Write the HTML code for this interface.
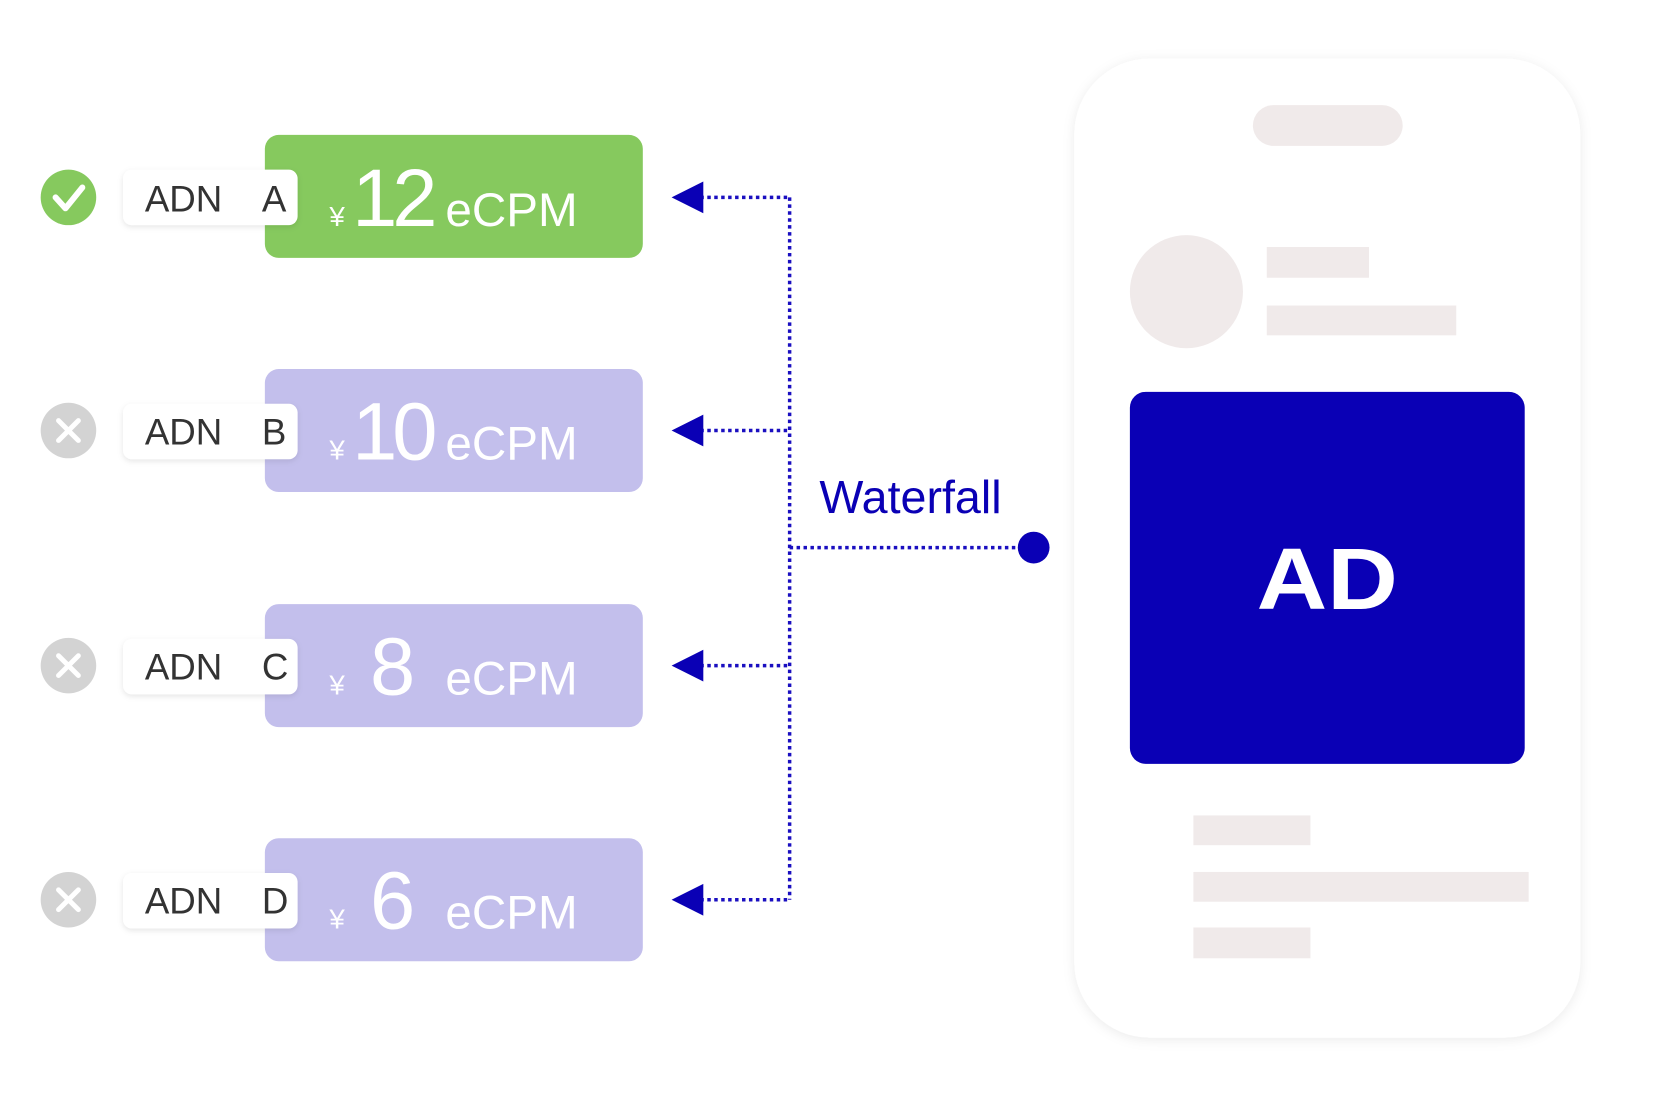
<!DOCTYPE html>
<html><head><meta charset="utf-8"><style>
html,body{margin:0;padding:0;background:#fff}
body{width:1680px;height:1096px;position:relative;overflow:hidden;font-family:"Liberation Sans",sans-serif}
</style></head><body>
<svg width="1680" height="1096" viewBox="0 0 1680 1096" xmlns="http://www.w3.org/2000/svg" style="position:absolute;left:0;top:0">
<defs>
<filter id="sh" x="-20%" y="-20%" width="140%" height="140%"><feDropShadow dx="0" dy="2" stdDeviation="6" flood-color="#000" flood-opacity="0.08"/></filter>
<filter id="sh2" x="-20%" y="-20%" width="140%" height="140%"><feDropShadow dx="0" dy="2" stdDeviation="3" flood-color="#000" flood-opacity="0.10"/></filter>
</defs>
<g transform="scale(0.992)">
<!-- phone -->
<rect x="1083" y="59" width="510" height="987" rx="76" fill="#fff" filter="url(#sh)"/>
<rect x="1263" y="106" width="151" height="41" rx="20.5" fill="#f0eaea"/>
<circle cx="1196" cy="294" r="57" fill="#f0eaea"/>
<rect x="1277" y="249" width="103" height="31" fill="#f0eaea"/>
<rect x="1277" y="308" width="191" height="30" fill="#f0eaea"/>
<rect x="1139" y="395" width="398" height="375" rx="16" fill="#0a00b5"/>
<text x="1338" y="614" text-anchor="middle" font-family="Liberation Sans, sans-serif" font-weight="bold" font-size="88" fill="#fff" transform="translate(1338 0) scale(1.12 1) translate(-1338 0)">AD</text>
<rect x="1203" y="822" width="118" height="30" fill="#f0eaea"/>
<rect x="1203" y="879" width="338" height="30" fill="#f0eaea"/>
<rect x="1203" y="935" width="118" height="31" fill="#f0eaea"/>

<!-- connectors -->
<g stroke="#1a0fc0" stroke-width="3.5" stroke-dasharray="3.5 3.5" fill="none">
<line x1="796" y1="199" x2="796" y2="907"/>
<line x1="706" y1="199" x2="796" y2="199"/>
<line x1="706" y1="434" x2="796" y2="434"/>
<line x1="706" y1="671" x2="796" y2="671"/>
<line x1="706" y1="907" x2="796" y2="907"/>
<line x1="796" y1="552" x2="1030" y2="552"/>
</g>
<circle cx="1042" cy="552" r="16" fill="#0a00b5"/>
<g fill="#0a00b5">
<polygon points="677,199 709,183 709,215"/>
<polygon points="677,434 709,418 709,450"/>
<polygon points="677,671 709,655 709,687"/>
<polygon points="677,907 709,891 709,923"/>
</g>
<text x="826" y="517" font-size="47" fill="#0a00b5">Waterfall</text>

<!-- A -->
<circle cx="69" cy="199" r="28" fill="#86c95e"/>
<polyline points="56,199 66,210 83,189" stroke="#fff" stroke-width="6" fill="none" stroke-linecap="round" stroke-linejoin="round"/>
<rect x="267" y="136" width="381" height="124" rx="14" fill="#86c95e"/>
<rect x="124" y="171" width="176" height="56" rx="9" fill="#fff" filter="url(#sh2)"/>
<text x="146" y="213" font-size="37" fill="#333">ADN</text>
<text x="264" y="213" font-size="37" fill="#333">A</text>
<text x="332" y="228" font-size="28" fill="#fff">¥</text>
<text x="355" y="228" font-size="82" fill="#fff" textLength="86">12</text>
<text x="449" y="228" font-size="48" fill="#fff">eCPM</text>

<!-- B -->
<circle cx="69" cy="434" r="28" fill="#d3d3d3"/>
<path d="M59 424 L79 444 M79 424 L59 444" stroke="#fff" stroke-width="5" stroke-linecap="round"/>
<rect x="267" y="372" width="381" height="124" rx="14" fill="#c3bfec"/>
<rect x="124" y="407" width="176" height="56" rx="9" fill="#fff" filter="url(#sh2)"/>
<text x="146" y="448" font-size="37" fill="#333">ADN</text>
<text x="264" y="448" font-size="37" fill="#333">B</text>
<text x="332" y="463" font-size="28" fill="#fff">¥</text>
<text x="355" y="463" font-size="82" fill="#fff" textLength="86">10</text>
<text x="449" y="463" font-size="48" fill="#fff">eCPM</text>

<!-- C -->
<circle cx="69" cy="671" r="28" fill="#d3d3d3"/>
<path d="M59 661 L79 681 M79 661 L59 681" stroke="#fff" stroke-width="5" stroke-linecap="round"/>
<rect x="267" y="609" width="381" height="124" rx="14" fill="#c3bfec"/>
<rect x="124" y="644" width="176" height="56" rx="9" fill="#fff" filter="url(#sh2)"/>
<text x="146" y="685" font-size="37" fill="#333">ADN</text>
<text x="264" y="685" font-size="37" fill="#333">C</text>
<text x="332" y="700" font-size="28" fill="#fff">¥</text>
<text x="373" y="700" font-size="82" fill="#fff">8</text>
<text x="449" y="700" font-size="48" fill="#fff">eCPM</text>

<!-- D -->
<circle cx="69" cy="907" r="28" fill="#d3d3d3"/>
<path d="M59 897 L79 917 M79 897 L59 917" stroke="#fff" stroke-width="5" stroke-linecap="round"/>
<rect x="267" y="845" width="381" height="124" rx="14" fill="#c3bfec"/>
<rect x="124" y="880" width="176" height="56" rx="9" fill="#fff" filter="url(#sh2)"/>
<text x="146" y="921" font-size="37" fill="#333">ADN</text>
<text x="264" y="921" font-size="37" fill="#333">D</text>
<text x="332" y="936" font-size="28" fill="#fff">¥</text>
<text x="373" y="936" font-size="82" fill="#fff">6</text>
<text x="449" y="936" font-size="48" fill="#fff">eCPM</text>
</g>
</svg>
</body></html>
